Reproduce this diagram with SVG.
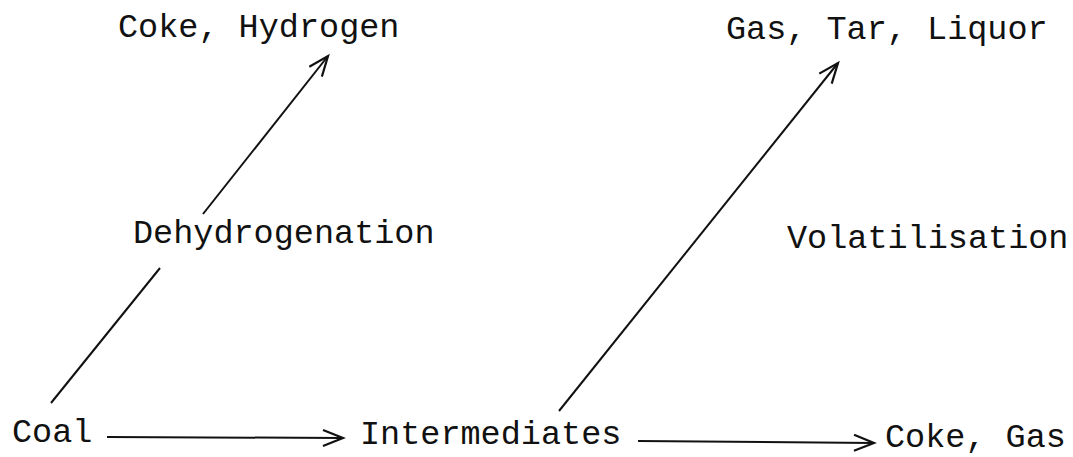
<svg xmlns="http://www.w3.org/2000/svg" width="1073" height="457" viewBox="0 0 1073 457">
<style>
.t{font-family:"Liberation Mono","Courier New",monospace;font-size:33.5px;fill:#111}
.c line{stroke:#111;stroke-width:2;fill:none}
</style>
<defs>
<marker id="ah" markerUnits="userSpaceOnUse" markerWidth="30" markerHeight="30" refX="22" refY="10" orient="auto" viewBox="0 0 30 20">
<path d="M2,2 L22,10 L2,18" fill="none" stroke="#111" stroke-width="2.2"/>
</marker>
</defs>
<rect width="1073" height="457" fill="#fff"/>
<g id="connectors" class="c">
<line x1="107" y1="437" x2="343" y2="438" marker-end="url(#ah)"/>
<line x1="638" y1="441" x2="874" y2="443" marker-end="url(#ah)"/>
<line x1="51" y1="403" x2="160" y2="268"/>
<line x1="203" y1="214" x2="328" y2="56" marker-end="url(#ah)"/>
<line x1="559" y1="411" x2="838" y2="63" marker-end="url(#ah)"/>
</g>
<g id="coal"><text class="t" x="12" y="442">Coal</text></g>
<g id="intermediates"><text class="t" x="360" y="444">Intermediates</text></g>
<g id="coke-gas"><text class="t" x="885" y="447">Coke, Gas</text></g>
<g id="coke-hydrogen"><text class="t" x="118" y="37">Coke, Hydrogen</text></g>
<g id="gas-tar-liquor"><text class="t" x="726" y="39">Gas, Tar, Liquor</text></g>
<g id="dehydrogenation"><text class="t" x="133" y="243">Dehydrogenation</text></g>
<g id="volatilisation"><text class="t" x="787" y="248">Volatilisation</text></g>
</svg>
